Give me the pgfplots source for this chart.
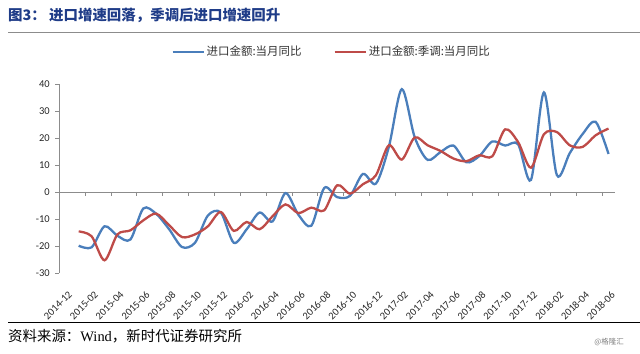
\documentclass[border=0pt]{standalone}
\usepackage{pgfplots}
\pgfplotsset{compat=1.18}
\usepackage{pgfplotstable}
\usepackage{fontspec}
\setmainfont{Liberation Serif}
\newfontfamily\cjk{Noto Sans CJK SC}
\newfontfamily\tickfont{Carlito}

\definecolor{sblue}{HTML}{4A7EBB}
\definecolor{sred}{HTML}{BE4B48}
\definecolor{titleblue}{HTML}{1F3C88}
\definecolor{axgray}{HTML}{8C8C8C}

\pgfplotstableread{
x a b
1 -19.9 -14.6
2 -20.5 -16.4
3 -12.7 -25.3
4 -16.2 -15.7
5 -17.6 -14.2
6 -6.1 -10.5
7 -8.1 -8.0
8 -13.8 -12.3
9 -20.4 -16.7
10 -18.8 -15.7
11 -8.7 -12.7
12 -7.6 -7.4
13 -18.8 -14.4
14 -13.8 -11.1
15 -7.6 -13.8
16 -10.9 -9.0
17 -0.4 -4.6
18 -8.4 -7.8
19 -12.5 -5.8
20 1.5 -6.8
21 -1.9 2.5
22 -1.4 -0.6
23 6.7 2.9
24 3.1 6.2
25 16.7 17.3
26 38.1 12.0
27 20.3 20.2
28 11.9 17.3
29 14.8 15.2
30 17.2 12.4
31 11.0 11.4
32 13.3 13.6
33 18.7 13.2
34 17.2 23.2
35 17.7 18.5
36 4.5 9.0
37 36.9 21.4
38 6.3 22.2
39 14.4 17.3
40 21.5 16.7
41 26.0 21.0
42 14.1 23.5
}\data

\begin{document}
\begin{tikzpicture}
\useasboundingbox (0,0) rectangle (640bp,354bp);
\node[anchor=west, text=titleblue, font=\cjk\bfseries\fontsize{14.5}{17}\selectfont, inner sep=0pt] at (8bp,339bp) {图3：\ 进口增速回落，季调后进口增速回升};
\draw[axgray, line width=1bp] (8bp,321bp) -- (640bp,321bp);
\draw[black, line width=0.8bp] (8bp,32bp) -- (640bp,32bp);
\node[anchor=west, font=\cjk\fontsize{14.5}{16}\selectfont, inner sep=0pt] at (8bp,18bp) {资料来源：{\rmfamily Wind}，新时代证券研究所};
\node[anchor=east, text=gray, font=\cjk\fontsize{7.5}{9}\selectfont, inner sep=0pt] at (624bp,12bp) {@格隆汇};
\begin{axis}[
  at={(59.3bp,81bp)}, anchor=south west,
  scale only axis, width=555.7bp, height=189bp,
  xmin=-0.5, xmax=42.5, ymin=-30, ymax=40,
  axis lines=left,
  axis line style={-, axgray, line width=0.8bp},
  x axis line style={draw=none},
  xtick={0,2,...,42},
  xticklabels={2014-12,2015-02,2015-04,2015-06,2015-08,2015-10,2015-12,2016-02,2016-04,2016-06,2016-08,2016-10,2016-12,2017-02,2017-04,2017-06,2017-08,2017-10,2017-12,2018-02,2018-04,2018-06},
  xtick style={draw=none},
  xticklabel style={rotate=45, anchor=north east, font=\tickfont\fontsize{10.5}{12}\selectfont, text=black!85, yshift=-9bp, xshift=-6bp},
  ytick={-30,-20,...,40},
  ytick align=outside,
  major tick length=4bp,
  ytick style={axgray, line width=0.8bp},
  yticklabel style={font=\tickfont\fontsize{10.5}{12}\selectfont, text=black!85, xshift=-2bp},
  /pgf/number format/assume math mode=true,
  legend style={at={(0.49,1.17)}, anchor=center, draw=none, fill=none,
    legend columns=2, font=\cjk\fontsize{11.5}{13}\selectfont, text=black!80,
    /tikz/every even column/.append style={column sep=30bp}},
  legend image code/.code={\draw[#1] (0bp,0bp) -- (31bp,0bp);},
]
\draw[axgray, line width=0.8bp] (axis cs:-0.5,0) -- (axis cs:42.5,0);
\pgfplotsinvokeforeach{1.5,3.5,...,41.5}{\draw[axgray, line width=0.8bp] (axis cs:#1,0) -- ++(0bp,-4bp);}
\addplot[sblue, line width=2.3bp, smooth] table[x=x, y=a] {\data};
\addlegendentry{进口金额:当月同比}
\addplot[sred, line width=2.3bp, smooth] table[x=x, y=b] {\data};
\addlegendentry{进口金额:季调:当月同比}
\end{axis}
\end{tikzpicture}
\end{document}
